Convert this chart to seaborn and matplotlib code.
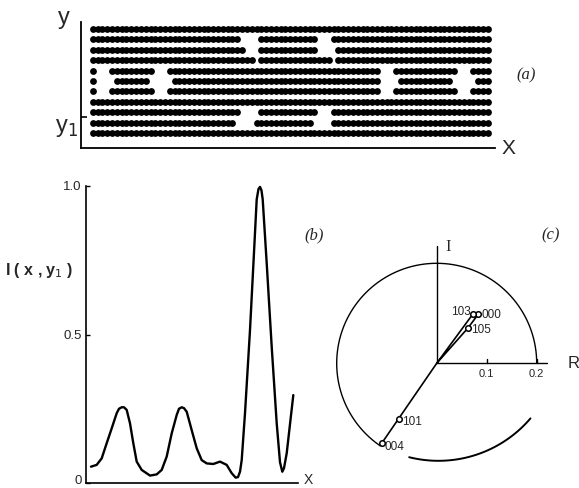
import numpy as np
import pandas as pd
import matplotlib
matplotlib.use("Agg")
import matplotlib.pyplot as plt
import matplotlib.transforms as mtransforms
import seaborn as sns

sns.set_theme(style="white")
plt.rcParams['font.family'] = ['Liberation Sans', 'DejaVu Sans']

# ---- panel (a): lattice image with holes ----
n_rows = 11
n_cols = 83
# missing dots per row: (row, first col, last col)
gaps = [
    (1, 31, 34), (1, 47, 49),
    (2, 32, 34), (2, 47, 50),
    (3, 34, 34), (3, 50, 50),
    (4, 1, 3), (4, 13, 15), (4, 60, 62), (4, 76, 78),
    (5, 1, 4), (5, 12, 16), (5, 60, 63), (5, 75, 79),
    (6, 1, 3), (6, 13, 15), (6, 60, 62), (6, 76, 78),
    (8, 31, 34), (8, 47, 49),
    (9, 30, 33), (9, 46, 49),
]
y1_row = 8.5

# ---- panel (b): intensity profile along y1 ----
prof_x = [5, 10.7, 15.7, 20.7, 25.7, 30.7, 33, 35.7, 38, 40.7, 44, 47.3, 50.7,
          55.7, 64, 70.7, 75.7, 80.7, 85.7, 90.7, 93, 95.7, 98, 100.7, 105.7,
          110.7, 115.7, 120.7, 127.3, 134, 140.7, 145.7, 149.7, 152, 154, 155.7,
          159, 164, 168.3, 170.7, 172.5, 174, 175.5, 176.7, 180.7, 185.7, 190.7,
          194, 196.3, 198, 200.7, 207.3]
prof_i = [0.055, 0.061, 0.083, 0.134, 0.184, 0.235, 0.250, 0.255, 0.255, 0.246,
          0.201, 0.134, 0.072, 0.044, 0.025, 0.029, 0.044, 0.089, 0.167, 0.229,
          0.250, 0.255, 0.252, 0.24, 0.178, 0.117, 0.077, 0.066, 0.064, 0.072,
          0.061, 0.033, 0.018, 0.020, 0.038, 0.077, 0.235, 0.515, 0.796, 0.955,
          0.990, 0.997, 0.985, 0.955, 0.74, 0.459, 0.201, 0.070, 0.038, 0.050,
          0.100, 0.296]

# ---- panel (c): structure factor vectors ----
refl_names = ["000", "103", "105", "101", "004"]
refl_re = [0.083, 0.072, 0.062, -0.075, -0.110]
refl_im = [0.098, 0.098, 0.070, -0.111, -0.160]
circle_r = 0.2
circle_end_deg = 235.7
# lower arc: centre, radius and angle span
arc_centre = (0.0035, 0.047)
arc_radius = 0.242
arc_span_deg = (256, 319.5)

W, H = 579, 488
fig = plt.figure(figsize=(W / 100, H / 100), dpi=100)


def px_axes(x0, y0, x1, y1):
    # axes from pixel box (top-left origin)
    return fig.add_axes([x0 / W, 1 - y1 / H, (x1 - x0) / W, (y1 - y0) / H])


# panel (a)
axa = px_axes(81, 22, 495, 148)
rows, cols = np.meshgrid(np.arange(n_rows), np.arange(n_cols), indexing="ij")
dots = pd.DataFrame({"row": rows.ravel(), "col": cols.ravel()})
keep = np.ones(len(dots), bool)
for r, c0, c1 in gaps:
    keep &= ~((dots["row"] == r) & (dots["col"] >= c0) & (dots["col"] <= c1))
dots = dots[keep]
sns.scatterplot(data=dots, x="col", y="row", ax=axa, color="black", s=24,
                marker="o", linewidth=0, legend=False)
axa.set_xlim(-2.43, 83.5)
axa.set_ylim(11.44, -0.67)
for s in ["top", "right"]:
    axa.spines[s].set_visible(False)
for s in ["left", "bottom"]:
    axa.spines[s].set_color("black")
    axa.spines[s].set_linewidth(1.3)
axa.set_xticks([])
axa.set_yticks([y1_row])
axa.set_yticklabels([])
axa.tick_params(axis="y", direction="in", length=4, width=1.2, color="black", left=True)
axa.set_xlabel("")
axa.set_ylabel("")

# panel (b)
axb = px_axes(86, 186, 298, 483)
prof = pd.DataFrame({"x": prof_x, "I": prof_i})
sns.lineplot(data=prof, x="x", y="I", ax=axb, color="black", linewidth=1.7,
             solid_joinstyle="round", clip_on=False)
axb.set_xlim(0, 212)
axb.set_ylim(0, 1.0)
for s in ["top", "right"]:
    axb.spines[s].set_visible(False)
for s in ["left", "bottom"]:
    axb.spines[s].set_color("black")
    axb.spines[s].set_linewidth(1.2)
axb.set_xticks([])
axb.set_yticks([0, 0.5, 1.0])
axb.set_yticklabels(["0", "0.5", "1.0"], fontsize=9.5)
axb.tick_params(axis="y", direction="in", length=3, width=1.0, color="black",
                left=True, pad=3)
# lift the "0" label so it stays inside the image
zero_lbl = axb.get_yticklabels()[0]
zero_lbl.set_transform(zero_lbl.get_transform() +
                       mtransforms.ScaledTranslation(0, 4 / 100, fig.dpi_scale_trans))
axb.set_xlabel("")
axb.set_ylabel("")

# panel (c)
ox, oy, sc = 436.7, 363.3, 500.0
axc = px_axes(ox - 0.24 * sc, oy - 0.26 * sc, ox + 0.285 * sc, oy + 0.25 * sc)
axc.set_xlim(-0.24, 0.285)
axc.set_ylim(-0.25, 0.26)
axc.axis("off")
lk = dict(color="black", lw=1.0)
axc.plot([0, 0.22], [0, 0], **lk)
axc.plot([0, 0], [0, 0.235], **lk)
for t in [0.1, 0.2]:
    axc.plot([t, t], [0, 0.008], **lk)
    axc.text(t, -0.012, f"{t:.1f}", ha="center", va="top", fontsize=8)
th = np.radians(np.linspace(0, circle_end_deg, 200))
axc.plot(circle_r * np.cos(th), circle_r * np.sin(th), color="black", lw=1.0)
ta = np.radians(np.linspace(arc_span_deg[0], arc_span_deg[1], 100))
axc.plot(arc_centre[0] + arc_radius * np.cos(ta),
         arc_centre[1] + arc_radius * np.sin(ta), color="black", lw=1.4)
# vectors
refl = pd.DataFrame({"name": refl_names, "re": refl_re, "im": refl_im}).set_index("name")
loop = ["103", "000", "105"]
axc.plot([0] + list(refl.loc[loop, "re"]) + [0],
         [0] + list(refl.loc[loop, "im"]) + [0], color="black", lw=1.2)
axc.plot([0, refl.loc["004", "re"]], [0, refl.loc["004", "im"]], color="black", lw=1.2)
sns.scatterplot(data=refl.reset_index(), x="re", y="im", ax=axc, s=16,
                facecolor="white", edgecolor="black", linewidth=1.1, legend=False,
                zorder=5)
axc.set_xlabel("")
axc.set_ylabel("")
lab_off = {"000": (0.007, -0.001, "left"), "103": (-0.004, 0.004, "right"),
           "105": (0.006, -0.004, "left"), "101": (0.006, -0.006, "left"),
           "004": (0.006, -0.008, "left")}
for n in refl_names:
    dx, dy, ha = lab_off[n]
    axc.text(refl.loc[n, "re"] + dx, refl.loc[n, "im"] + dy, n, ha=ha,
             va="center", fontsize=8.5)
axc.text(0.262, 0.0, "R", ha="left", va="center", fontsize=12)
axc.text(0.022, 0.232, "I", ha="center", va="center", fontsize=12,
         family="Liberation Serif")

# text labels
def ftxt(x, y, s, **kw):
    fig.text(x / W, 1 - y / H, s, **kw)

ftxt(64, 18, "y", fontsize=17, ha="center", va="center")
ftxt(66, 128, "y$_1$", fontsize=17, ha="center", va="center")
ftxt(508, 149, "X", fontsize=15, ha="center", va="center")
ftxt(308, 480, "X", fontsize=10, ha="center", va="center")
ftxt(39, 270, "I ( x , y$_1$ )", fontsize=11.5, ha="center", va="center",
     fontweight="bold")
ftxt(526, 75, "(a)", fontsize=12, ha="center", va="center", style="italic",
     family="Liberation Serif")
ftxt(314, 235, "(b)", fontsize=12, ha="center", va="center", style="italic",
     family="Liberation Serif")
ftxt(551, 235, "(c)", fontsize=12, ha="center", va="center", style="italic",
     family="Liberation Serif")

fig.savefig("out.png", dpi=100, facecolor="white")
